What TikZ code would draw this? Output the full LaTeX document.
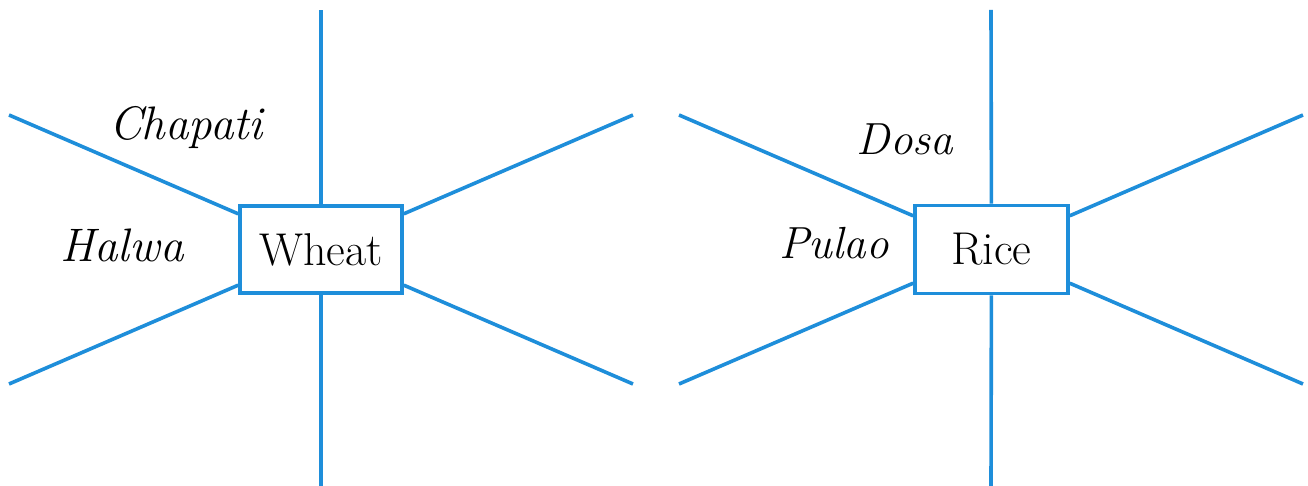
\documentclass[tikz,border=0pt]{standalone}
\usepackage{fontspec}
\definecolor{lineblue}{RGB}{30,142,218}
\tikzset{
  spoke/.style={draw=lineblue, line width=1.8pt},
  grain/.style={draw=lineblue, line width=1.8pt, fill=white, inner sep=0pt, font=\fontsize{23}{26}\selectfont},
  dish/.style={inner sep=0pt, anchor=base, font=\fontsize{23.5}{26}\selectfont\itshape},
}
\begin{document}
\begin{tikzpicture}[x=0.5pt, y=-0.5pt]
\useasboundingbox (0,0) rectangle (1308,486);
\fill[white] (0,0) rectangle (1308,486);
% Wheat
\node[grain, minimum width=81pt, minimum height=43.5pt] (wheat) at (321,249.5) {Wheat};
\coordinate (w1) at (321,10);
\coordinate (w2) at (321,486);
\coordinate (w3) at (9,115);
\coordinate (w4) at (633,115);
\coordinate (w5) at (9,384);
\coordinate (w6) at (633,384);
\foreach \c in {w1,w2,w3,w4,w5,w6} \draw[spoke] (wheat) -- (\c);
\node[dish] (chapati) at (186,140) {Chapati};
\node[dish] (halwa) at (122,262) {Halwa};
% Rice
\node[grain, minimum width=76.5pt, minimum height=44pt] (rice) at (991.5,249.5) {Rice};
\coordinate (r1) at (991,10);
\coordinate (r2) at (991,486);
\coordinate (r3) at (679,115);
\coordinate (r4) at (1303,115);
\coordinate (r5) at (679,384);
\coordinate (r6) at (1303,384);
\foreach \c in {r1,r2,r3,r4,r5,r6} \draw[spoke] (rice) -- (\c);
\node[dish, font=\fontsize{22.5}{25}\selectfont\itshape] (dosa) at (905,155) {Dosa};
\node[dish, font=\fontsize{22.5}{25}\selectfont\itshape] (pulao) at (834,259) {Pulao};
\end{tikzpicture}
\end{document}
